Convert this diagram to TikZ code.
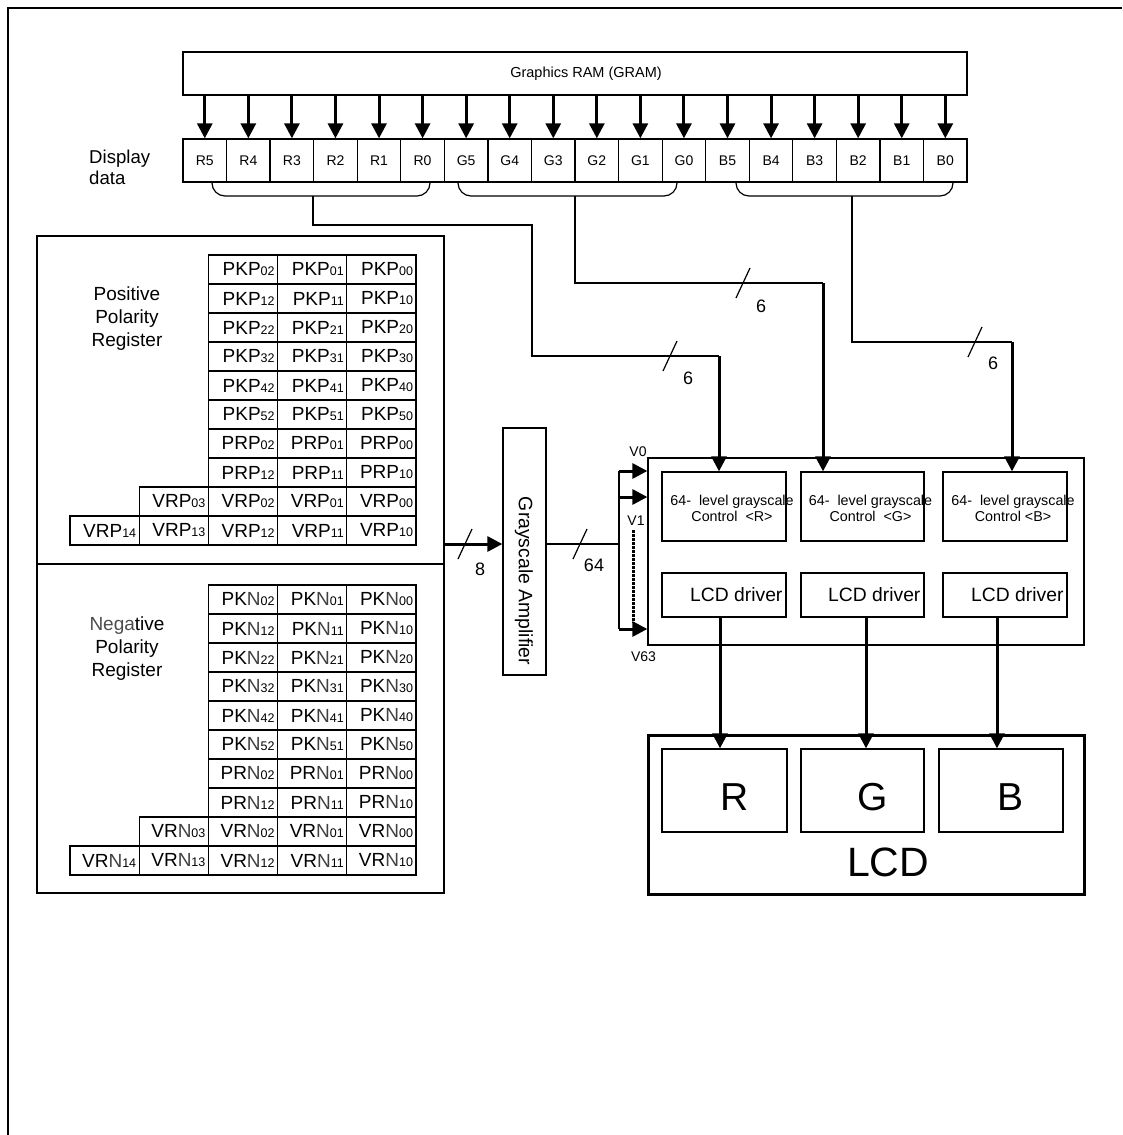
\documentclass[tikz,border=0pt]{standalone}
\usepackage{fontspec}
\setmainfont{Liberation Sans}
\usetikzlibrary{arrows.meta}
\newcommand\fs[2]{\fontsize{#1}{#2}\selectfont}
\newcommand\regsub[1]{{\fs{12.5}{12.5}#1}}
\newcommand\negN{{\color{black!75}N}}

\begin{document}
\begin{tikzpicture}[x=1pt, y=-1pt, >={Triangle[length=15pt, width=15pt]},
    box/.style={draw, line width=1.3pt, inner sep=0pt},
    cellbox/.style={box, minimum width=43.56pt, minimum height=43pt, font=\fs{14}{14}},
    regcell/.style={box, minimum height=29pt, text width=63.2pt, inner xsep=3pt, align=right, font=\fs{19}{19}},
    fat/.style={line width=3pt, ->},
    wire/.style={line width=1.2pt},
    lbl/.style={inner sep=0pt, font=\fs{18}{18}},
    slash/.pic={\draw[line width=1.2pt] (-7,15) -- (7,-15);}]
    \useasboundingbox (0,0) rectangle (1122,1135);
    \draw[line width=1.5pt] (8,1135) -- (8,8) -- (1122,8);

    \node[box, minimum width=784pt, minimum height=43pt] (gram) at (575,73.5) {};
    \node[inner sep=0pt, font=\fs{14.5}{14.5}] (gramtxt) at (586,74) {Graphics RAM (GRAM)};
    \foreach \lab [count=\i from 0] in {R5,R4,R3,R2,R1,R0,G5,G4,G3,G2,G1,G0,B5,B4,B3,B2,B1,B0} {
      \node[cellbox] (c\i) at (204.78+43.56*\i, 160.5) {\lab};
      \draw[fat] (c\i.north |- gram.south) -- (c\i.north);
    }
    \node[inner sep=0pt, anchor=west, align=left, font=\fs{18.6}{21}] (disp) at (89,167) {Display\\data};

    \foreach \a/\b/\m/\n in {212/430/313/rb, 458/677/575/gb, 736/953/852/bb} {
      \draw[wire, rounded corners=13pt] (\a,182) -- (\a,196) -- (\b,196) -- (\b,182);
      \coordinate (\n) at (\m,196);
    }
    \coordinate (rin) at (719,356);
    \coordinate (gin) at (823,283);
    \coordinate (bin) at (1012,342);
    \draw[wire] (rb) |- (532,225) |- (rin);
    \draw[wire] (gb) |- (gin);
    \draw[wire] (bb) |- (bin);
    \pic at (670,356) {slash};
    \pic at (743,283) {slash};
    \pic at (975,342) {slash};
    \node[lbl] (sixR) at (688,378) {6};
    \node[lbl] (sixG) at (761,306) {6};
    \node[lbl] (sixB) at (993,363) {6};

    \node[draw, line width=1.7pt, minimum width=407pt, minimum height=328pt, inner sep=0pt] (posbox) at (240.5,400) {};
    \node[draw, line width=1.7pt, minimum width=407pt, minimum height=329pt, inner sep=0pt] (negbox) at (240.5,728.5) {};
    \node[inner sep=0pt, align=center, font=\fs{19}{23}] (postxt) at (127,319) {Positive\\Polarity\\Register};
    \node[inner sep=0pt, align=center, font=\fs{19}{23}] (negtxt) at (127,649) {{\color{black!70}Nega}tive\\Polarity\\Register};
    \foreach \row/\pre/\idx/\first in {0/PK/0/2, 1/PK/1/2, 2/PK/2/2, 3/PK/3/2, 4/PK/4/2, 5/PK/5/2, 6/PR/0/2, 7/PR/1/2, 8/VR/0/1, 9/VR/1/0} {
      \foreach \col in {\first,...,4} {
        \pgfmathtruncatemacro\sub{4-\col}
        \node[regcell] (p\row\col) at (104.6+69.2*\col, 269.5+29*\row) {\pre P\regsub{\idx\sub}};
        \node[regcell] (n\row\col) at (104.6+69.2*\col, 599.5+29*\row) {\pre\negN\regsub{\idx\sub}};
      }
    }

    \node[box, minimum width=43pt, minimum height=247pt] (amp) at (524.5,551.5) {};
    \node[inner sep=0pt, rotate=-90, font=\fs{19.4}{20}] (amptxt) at (524,581) {Grayscale Amplifier};
    \coordinate (tap) at (444,544);
    \draw[fat] (tap) -- (tap -| amp.west);
    \pic at (465,544) {slash};
    \node[lbl] (eight) at (480,569) {8};

    \node[draw, line width=1.3pt, minimum width=436pt, minimum height=187pt, inner sep=0pt] (ctl) at (866,551.5) {};
    \coordinate (busT) at (619,471);
    \coordinate (busM) at (619,497);
    \coordinate (busB) at (619,629);
    \draw[wire] (amp.east |- tap) -- (tap -| busT);
    \draw[wire] (busT) -- (busB);
    \pic at (580,544) {slash};
    \node[lbl] (sixfour) at (594,565) {64};
    \foreach \p in {busT, busM, busB} \draw[fat] (\p) -- (\p -| ctl.west);
    \draw[line width=3pt, dash pattern=on 2.5pt off 1.5pt] (633,530) -- (633,623);
    \node[inner sep=0pt, font=\fs{14}{14}] (v0) at (638,452) {V0};
    \node[inner sep=0pt, font=\fs{14}{14}] (v1) at (636,521) {V1};
    \node[inner sep=0pt, font=\fs{14}{14}] (v63) at (643.5,657) {V63};

    \foreach \n/\x/\w/\sp in {R/724/124/8pt, G/862.5/123/8pt, B/1005/124/4pt} {
      \node[box, minimum width=\w pt, minimum height=69pt] (ctl\n) at (\x,506.5) {};
      \node[inner sep=0pt, align=center, font=\fs{14.3}{16}] (ct\n) at (\x+8,508.5) {64-\hspace{8pt}level grayscale\\Control\hspace{\sp}<\n>};
      \node[box, minimum width=\w pt, minimum height=44pt] (drv\n) at (\x,595) {};
      \node[inner sep=0pt, anchor=east, font=\fs{19.3}{20}] (dt\n) at ([xshift=-4pt]drv\n.east) {LCD driver};
    }
    \draw[fat] (rin) -- (rin |- ctlR.north);
    \draw[fat] (gin) -- (gin |- ctlG.north);
    \draw[fat] (bin) -- (bin |- ctlB.north);

    \node[draw, line width=3pt, minimum width=436pt, minimum height=159pt, inner sep=0pt] (lcd) at (866,814.5) {};
    \foreach \n/\x/\w/\tx/\ax in {R/724.5/125/735/720, G/862.5/123/873/866, B/1001/124/1010/997} {
      \node[box, minimum width=\w pt, minimum height=83pt] (px\n) at (\x,790.5) {};
      \node[inner sep=0pt, anchor=base, font=\fs{39}{39}] (pt\n) at (\tx,810) {\n};
      \coordinate (o\n) at (\ax,0);
      \draw[fat] (drv\n.south -| o\n) -- (px\n.north -| o\n);
    }
    \node[inner sep=0pt, anchor=base, font=\fs{41}{41}] (lcdtxt) at (888,876) {LCD};
\end{tikzpicture}
\end{document}
